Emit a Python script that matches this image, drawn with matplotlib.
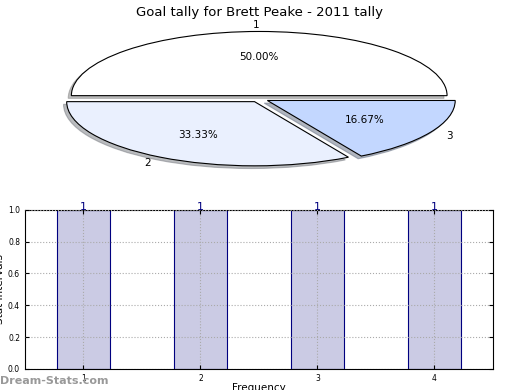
import matplotlib
matplotlib.use("Agg")
import matplotlib.pyplot as plt

title = "Goal tally for Brett Peake - 2011 tally"
pie_labels = ["1", "2", "3"]
pie_values = [3, 2, 1]
pie_colors = ["#ffffff", "#eaf0fe", "#c3d7ff"]

bar_x = [1, 2, 3, 4]
bar_values = [1, 1, 1, 1]

fig = plt.figure(figsize=(5.2, 3.9), dpi=100)
fig.suptitle(title, fontsize=9.5, y=0.985)

ax1 = fig.add_axes([0.065, 0.549, 0.867, 0.395])
wedges, texts, autotexts = ax1.pie(
    pie_values, labels=pie_labels, colors=pie_colors, explode=[0.05, 0.05, 0.05],
    autopct="%1.2f%%", shadow=dict(ox=-0.012, oy=-0.03, shade=0.5), startangle=0,
    labeldistance=1.1, pctdistance=0.6,
    wedgeprops=dict(edgecolor="black", linewidth=0.8),
    textprops=dict(fontsize=7.5))
ax1.set_aspect("auto")
ax1.set_xlim(-1.2, 1.2)
ax1.set_ylim(-1.2, 1.2)
ax1.axis("off")

ax2 = fig.add_axes([0.048, 0.054, 0.9, 0.408])
ax2.bar(bar_x, bar_values, width=0.45, color="#cbcbe4",
        edgecolor="#00007f", linewidth=0.8, zorder=2)
for x, v in zip(bar_x, bar_values):
    ax2.text(x, v + 0.02, str(v), ha="center", va="center", color="#00007f", fontsize=8, zorder=4)
ax2.set_xlim(0.5, 4.5)
ax2.set_ylim(0, 1.0)
ax2.set_xticks(bar_x)
ax2.set_yticks([0.0, 0.2, 0.4, 0.6, 0.8, 1.0])
ax2.tick_params(labelsize=5.5, direction="in", top=True, right=True, length=3)
ax2.grid(True, linestyle=":", color="#aaaaaa", linewidth=0.8, zorder=3)
ax2.set_axisbelow(False)
ax2.set_ylabel("Stat Intervals", fontsize=7.5, labelpad=2)
ax2.set_xlabel("Frequency", fontsize=7.5, labelpad=0)
fig.text(0.0, 0.01, "Dream-Stats.com", color="#999999", fontsize=8, fontweight="bold",
         ha="left", va="bottom")

fig.savefig("out.png", dpi=100)
